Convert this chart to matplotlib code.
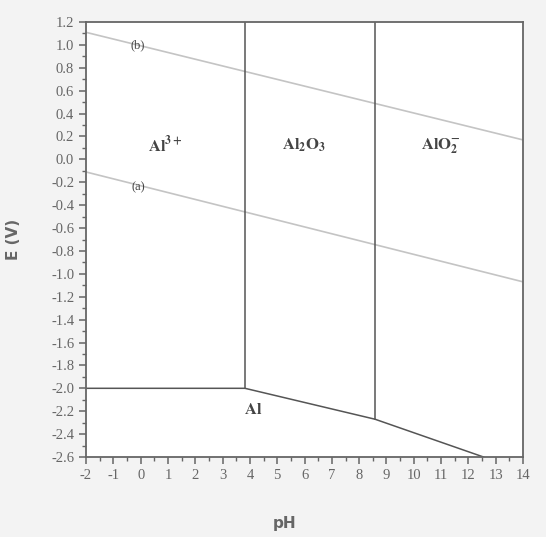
import matplotlib
matplotlib.use('Agg')
import matplotlib.pyplot as plt
from matplotlib.ticker import MultipleLocator, FormatStrFormatter

plt.rcParams['font.family'] = ['Liberation Serif', 'DejaVu Serif']
plt.rcParams['mathtext.fontset'] = 'stix'
plt.rcParams['axes.unicode_minus'] = False

# boundary lines (pH, E)
al_ph = [-2, 3.82, 8.58, 12.55]
al_e = [-2.0, -2.0, -2.27, -2.6]
v1_ph = [3.82, 3.82]
v1_e = [1.2, -2.0]
v2_ph = [8.58, 8.58]
v2_e = [1.2, -2.27]
# water lines
a_ph = [-2, 14]
a_e = [-0.11, -1.07]
b_ph = [-2, 14]
b_e = [1.11, 0.17]

labels = [r'$\mathbf{Al}^{\mathbf{3+}}$', r'$\mathbf{Al}_{\mathbf{2}}\mathbf{O}_{\mathbf{3}}$',
          r'$\mathbf{AlO}_{\mathbf{2}}^{\mathbf{-}}$', r'$\mathbf{Al}$', '(b)', '(a)']
label_ph = [0.9, 6.0, 11.0, 4.1, -0.1, -0.1]
label_e = [0.12, 0.12, 0.12, -2.19, 1.0, -0.24]
label_size = [12, 12, 12, 12, 9, 9]

fig = plt.figure(figsize=(5.46, 5.37), dpi=100, facecolor='#f3f3f3')
ax = fig.add_axes([0.1575, 0.149, 0.8005, 0.81])
ax.set_facecolor('white')

ax.plot(b_ph, b_e, color='#c4c4c4', lw=1.2)
ax.plot(a_ph, a_e, color='#c4c4c4', lw=1.2)
ax.plot(al_ph, al_e, color='#555555', lw=1.1)
ax.plot(v1_ph, v1_e, color='#555555', lw=1.1)
ax.plot(v2_ph, v2_e, color='#555555', lw=1.1)

for t, x, y, s in zip(labels, label_ph, label_e, label_size):
    ax.text(x, y, t, ha='center', va='center', fontsize=s, color='#444444')

ax.set_xlim(-2, 14)
ax.set_ylim(-2.6, 1.2)
ax.xaxis.set_major_locator(MultipleLocator(1))
ax.xaxis.set_minor_locator(MultipleLocator(0.5))
ax.yaxis.set_major_locator(MultipleLocator(0.2))
ax.yaxis.set_minor_locator(MultipleLocator(0.1))
ax.yaxis.set_major_formatter(FormatStrFormatter('%.1f'))

for s in ax.spines.values():
    s.set_color('#666666')
    s.set_linewidth(1.3)
ax.tick_params(which='major', direction='out', length=5, width=1.1, color='#666666',
               labelsize=10.5, labelcolor='#666666')
ax.tick_params(which='minor', direction='out', length=3, width=1, color='#666666')

ax.set_xlabel('pH', fontfamily='DejaVu Sans', fontweight='bold', fontsize=11,
              color='#666666')
ax.xaxis.set_label_coords(0.455, -0.135)
ax.set_ylabel('E (V)', fontfamily='DejaVu Sans', fontweight='bold', fontsize=11,
              color='#666666', labelpad=22)

fig.savefig('out.png', dpi=100, facecolor=fig.get_facecolor())
